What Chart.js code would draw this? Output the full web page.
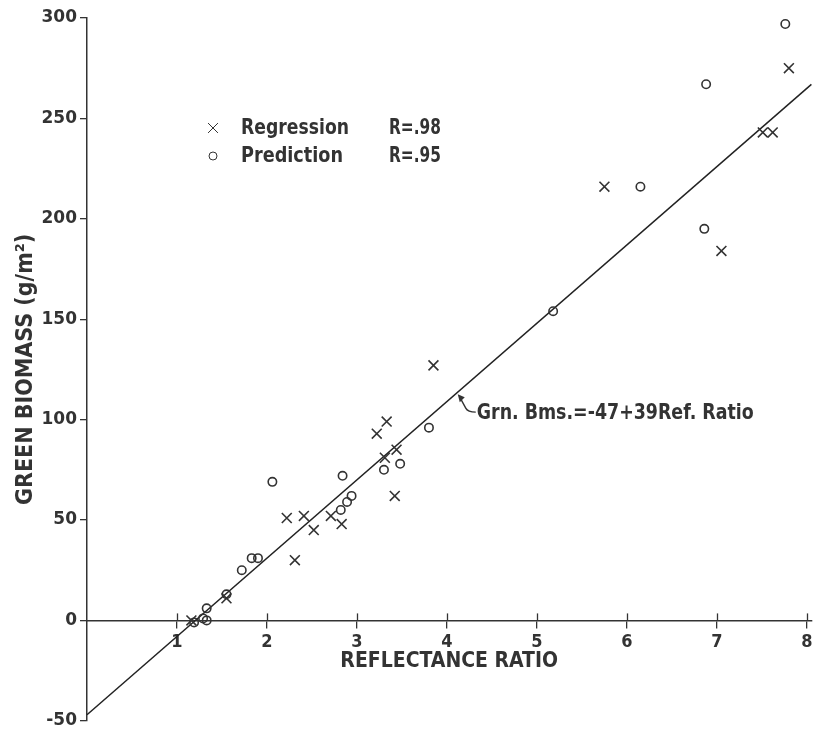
<!DOCTYPE html>
<html>
<head>
<meta charset="utf-8">
<title>Green biomass vs reflectance ratio</title>
<script src="https://cdn.jsdelivr.net/npm/chart.js@4.4.1/dist/chart.umd.min.js"></script>
<style>
  html, body { margin: 0; padding: 0; background: #ffffff; }
  #wrap { width: 820px; height: 734px; position: relative; }
</style>
</head>
<body>
<div id="wrap"><canvas id="chart"></canvas></div>
<script>
// Regression sample (×): reflectance ratio and green biomass (g/m²)
const regressionRatio   = [1.16, 1.55, 2.22, 2.31, 2.41, 2.52, 2.71, 2.83, 3.22, 3.31, 3.33, 3.44, 3.42, 3.85, 5.75, 7.05, 7.51, 7.62, 7.80];
const regressionBiomass = [0,    11,   51,   30,   52,   45,   52,   48,   93,   81,   99,   85,   62,   127,  216,  184,  243,  243,  275];

// Prediction sample (o)
const predictionRatio   = [1.19, 1.29, 1.33, 1.33, 1.55, 1.72, 1.83, 1.90, 2.06, 2.82, 2.84, 2.89, 2.94, 3.30, 3.48, 3.80, 5.18, 6.15, 6.86, 6.88, 7.76];
const predictionBiomass = [-1,   1,    0,    6,    13,   25,   31,   31,   69,   55,   72,   59,   62,   75,   78,   96,   154,  216,  195,  267,  297];

// Axis ticks
const ratioTicks   = [1, 2, 3, 4, 5, 6, 7, 8];
const biomassTicks = [-50, 0, 50, 100, 150, 200, 250, 300];

// Fitted line: Grn. Bms. = -47 + 39 Ref. Ratio
const fitIntercept = -47;
const fitSlope     = 39;
const fitRange     = [0, 8.05];

const legendRows = [
  { symbol: 'crossRot', label: 'Regression', stat: 'R=.98' },
  { symbol: 'circle',   label: 'Prediction', stat: 'R=.95' }
];
const equationLabel = 'Grn. Bms.=-47+39Ref. Ratio';

const ink = '#333333';
const narrow = "'Liberation Sans Narrow', 'DejaVu Sans Condensed', 'Roboto Condensed', 'Liberation Sans', sans-serif";
const numeric = "'DejaVu Sans', 'Liberation Sans', sans-serif";

const toPoints = (xs, ys) => xs.map((x, i) => ({ x: x, y: ys[i] }));
const fitPoints = fitRange.map(x => ({ x: x, y: fitIntercept + fitSlope * x }));

// Text squeezed to a given width, in the condensed bold lettering of the plot
function condensedText(ctx, text, x, y, size, width) {
  ctx.save();
  ctx.font = 'bold ' + size + 'px ' + narrow;
  const w = ctx.measureText(text).width;
  const k = width / w;
  ctx.translate(x, y);
  ctx.scale(k, 1);
  ctx.fillStyle = ink;
  ctx.textBaseline = 'middle';
  ctx.textAlign = 'left';
  ctx.fillText(text, 0, 0);
  ctx.restore();
}

const overlay = {
  id: 'overlay',
  afterDraw(chart) {
    const ctx = chart.ctx;
    const xs = chart.scales.x, ys = chart.scales.y;
    const y0 = ys.getPixelForValue(0);

    // upper half of the crossing tick marks on the ratio axis
    ctx.save();
    ctx.strokeStyle = ink;
    ctx.lineWidth = 1.3;
    ratioTicks.forEach(v => {
      const px = Math.round(xs.getPixelForValue(v)) + 0.5;
      ctx.beginPath();
      ctx.moveTo(px, y0 - 7);
      ctx.lineTo(px, y0);
      ctx.stroke();
    });
    ctx.restore();

    // key
    const left = chart.chartArea.left;
    const top = chart.chartArea.top;
    legendRows.forEach((row, i) => {
      const cy = top + 110 + i * 28;
      ctx.save();
      ctx.strokeStyle = ink;
      ctx.fillStyle = 'rgba(0,0,0,0)';
      Chart.helpers.drawPoint(ctx, {
        pointStyle: row.symbol,
        radius: row.symbol === 'circle' ? 4 : 7,
        borderWidth: 1.6
      }, left + 126, cy);
      ctx.restore();
      condensedText(ctx, row.label, left + 154, cy, 22, i === 0 ? 108 : 102);
      condensedText(ctx, row.stat, left + 302, cy, 22, 52);
    });

    // equation label with its pointer to the fitted line
    const ax = 4.12;
    const px = xs.getPixelForValue(ax);
    const py = ys.getPixelForValue(fitIntercept + fitSlope * ax);
    ctx.save();
    ctx.strokeStyle = ink;
    ctx.fillStyle = ink;
    ctx.lineWidth = 1.4;
    ctx.beginPath();
    ctx.moveTo(px + 2, py + 5);
    ctx.lineTo(px + 8, py + 16);
    ctx.quadraticCurveTo(px + 10, py + 20, px + 18, py + 20);
    ctx.stroke();
    ctx.beginPath();
    ctx.moveTo(px, py + 2);
    ctx.lineTo(px + 7, py + 5);
    ctx.lineTo(px + 2, py + 10);
    ctx.closePath();
    ctx.fill();
    ctx.restore();
    condensedText(ctx, equationLabel, px + 19, py + 21, 22, 277);
  }
};

new Chart(document.getElementById('chart'), {
  type: 'scatter',
  data: {
    datasets: [
      {
        label: 'Regression',
        data: toPoints(regressionRatio, regressionBiomass),
        pointStyle: 'crossRot',
        pointRadius: 7,
        pointBorderWidth: 1.6,
        borderColor: ink,
        backgroundColor: ink,
        showLine: false
      },
      {
        label: 'Prediction',
        data: toPoints(predictionRatio, predictionBiomass),
        pointStyle: 'circle',
        pointRadius: 4.2,
        pointBorderWidth: 1.6,
        borderColor: ink,
        backgroundColor: 'rgba(0,0,0,0)',
        showLine: false
      },
      {
        type: 'line',
        label: 'Fit',
        data: fitPoints,
        borderColor: '#222222',
        borderWidth: 1.5,
        pointRadius: 0,
        fill: false,
        showLine: true,
        clip: false
      }
    ]
  },
  options: {
    responsive: true,
    maintainAspectRatio: false,
    devicePixelRatio: 1,
    animation: false,
    events: [],
    layout: { padding: { top: 18, right: 1, bottom: 12, left: 10 } },
    plugins: { legend: { display: false }, tooltip: { enabled: false } },
    scales: {
      x: {
        type: 'linear',
        min: fitRange[0],
        max: fitRange[1],
        position: { y: 0 },
        afterBuildTicks: s => { s.ticks = ratioTicks.map(v => ({ value: v })); },
        afterFit: s => { s.paddingLeft = 0; s.paddingRight = 0; s.height = 54; },
        grid: { drawOnChartArea: false, drawTicks: true, tickLength: 7, color: ink, lineWidth: 1.3 },
        border: { display: true, color: ink, width: 1.5 },
        ticks: { color: ink, padding: 4, maxRotation: 0, font: { family: narrow, size: 18, weight: 'bold' } },
        title: {
          display: true,
          text: 'REFLECTANCE RATIO',
          color: ink,
          padding: { top: 0, bottom: 0 },
          font: { family: narrow, size: 21, weight: 'bold' }
        }
      },
      y: {
        type: 'linear',
        min: -50,
        max: 300,
        position: 'left',
        afterBuildTicks: s => { s.ticks = biomassTicks.map(v => ({ value: v })); },
        afterFit: s => { s.width = 77; },
        grid: { drawOnChartArea: false, drawTicks: true, tickLength: 7, color: ink, lineWidth: 1.3 },
        border: { display: true, color: ink, width: 1.5 },
        ticks: { color: ink, padding: 3, font: { family: numeric, size: 17, weight: 'bold' } },
        title: {
          display: true,
          text: 'GREEN BIOMASS (g/m²)',
          color: ink,
          padding: { top: 2, bottom: 2 },
          font: { family: narrow, size: 23, weight: 'bold' }
        }
      }
    }
  },
  plugins: [overlay]
});
</script>
</body>
</html>
